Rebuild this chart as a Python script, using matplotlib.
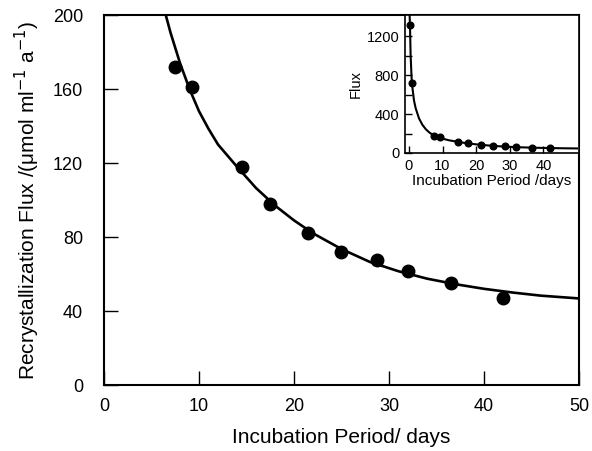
import numpy as np
import matplotlib
matplotlib.use("Agg")
import matplotlib.pyplot as plt

plt.rcParams['font.family'] = ['Liberation Sans', 'DejaVu Sans']

# measured points (main panel)
days = [7.5, 9.3, 14.5, 17.5, 21.5, 25.0, 28.7, 32.0, 36.5, 42.0]
flux = [172, 161, 118, 98, 82, 72, 67.5, 61.5, 55, 47]

# fitted curve
curve_x = [6.5, 7, 8, 9, 10, 11, 12, 14, 16, 18, 20, 22, 25, 28, 31, 34, 37, 40, 43, 46, 50]
curve_y = [200, 190.5, 174, 160, 148, 138.5, 130, 118, 106.5, 97, 89, 82, 73.5, 66.5, 61.5,
           57.5, 54.5, 52, 50, 48.3, 46.8]

# inset: two early points plus the same series
inset_days = [0.3, 1.0] + days
inset_flux = [1320, 720] + flux
inset_cx = [0.1, 0.3, 0.5, 0.8, 1.0, 1.5, 2, 3, 4, 5, 6, 6.5] + curve_x[1:]
inset_cy = [1500, 1320, 1000, 760, 680, 540, 460, 355, 290, 245, 213, 200] + curve_y[1:]

fig = plt.figure(figsize=(5.92, 4.51), dpi=100)
ax = fig.add_axes([0.1757, 0.1463, 0.8023, 0.8204])

ax.plot(curve_x, curve_y, color="black", lw=1.9, solid_capstyle="butt")
ax.plot(days, flux, "o", color="black", ms=9)
ax.set_xlim(0, 50)
ax.set_ylim(0, 200)
ax.set_xticks(np.arange(0, 51, 10))
ax.set_yticks(np.arange(0, 201, 40))
ax.tick_params(direction="in", length=10, width=1, labelsize=13)
ax.tick_params(axis="y", pad=15)
ax.tick_params(axis="x", pad=9)
for s in ax.spines.values():
    s.set_linewidth(1.5)
ax.set_xlabel("Incubation Period/ days", fontsize=15, labelpad=10)
ax.set_ylabel("Recrystallization Flux /(\u03bcmol ml$^{-1}$ a$^{-1}$)", fontsize=15, labelpad=8)

# inset
ins = fig.add_axes([0.684, 0.6608, 0.294, 0.306])
ins.plot(inset_cx, inset_cy, color="black", lw=1.5)
ins.plot(inset_days, inset_flux, "o", color="black", ms=4.8)
ins.set_xlim(-1.2, 50.6)
ins.set_ylim(0, 1420)
ins.set_xticks(np.arange(0, 41, 10))
ins.set_yticks([0, 400, 800, 1200])
ins.set_yticks([200, 600, 1000], minor=True)
ins.tick_params(direction="in", length=5, width=1, labelsize=10.5, pad=4)
ins.tick_params(which="minor", direction="in", length=5, width=1)
for s in ins.spines.values():
    s.set_linewidth(1.2)
ins.set_xlabel("Incubation Period /days", fontsize=11, labelpad=1)
ins.set_ylabel("Flux", fontsize=10.5, labelpad=3)

fig.savefig("out.png", dpi=100)
